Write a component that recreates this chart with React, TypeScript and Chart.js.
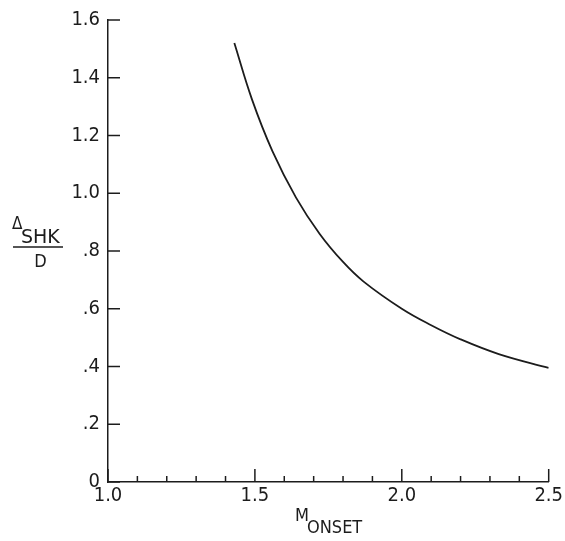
import React, { useEffect, useRef } from "react";
import { Chart, registerables } from "chart.js";

Chart.register(...registerables);

// Data
const mOnset = [1.43, 1.49, 1.56, 1.64, 1.72, 1.8, 1.87, 2.0, 2.1, 2.2, 2.33, 2.5];
const deltaShkOverD = [1.52, 1.325, 1.145, 0.985, 0.86, 0.762, 0.694, 0.6, 0.543, 0.494, 0.443, 0.395];

const xTickLabels = ["1.0", "1.5", "2.0", "2.5"];
const yTickLabels = ["0", ".2", ".4", ".6", ".8", "1.0", "1.2", "1.4", "1.6"];

const INK = "#1c1c1c";
const FONT = "'DejaVu Sans Condensed', 'Liberation Sans Narrow', 'DejaVu Sans', sans-serif";
const FONT_WIDE = "'DejaVu Sans', sans-serif";

const isMajorX = (v: number) => Math.abs(v * 2 - Math.round(v * 2)) < 1e-6;

const decorPlugin = {
  id: "decor",
  afterDraw(chart: any) {
    const ctx = chart.ctx;
    const xs = chart.scales.x;
    const ys = chart.scales.y;
    const area = chart.chartArea;
    ctx.save();
    ctx.strokeStyle = INK;
    ctx.lineWidth = 1.5;
    // y ticks, drawn inward
    ys.ticks.forEach((t: any) => {
      const py = ys.getPixelForValue(t.value);
      ctx.beginPath();
      ctx.moveTo(area.left, py);
      ctx.lineTo(area.left + 12, py);
      ctx.stroke();
    });
    // x ticks, drawn inward
    xs.ticks.forEach((t: any) => {
      const px = xs.getPixelForValue(t.value);
      const len = isMajorX(t.value) ? 13 : 6;
      ctx.beginPath();
      ctx.moveTo(px, area.bottom);
      ctx.lineTo(px, area.bottom - len);
      ctx.stroke();
    });

    ctx.fillStyle = INK;
    ctx.textBaseline = "alphabetic";
    ctx.textAlign = "left";
    // y axis title: Δ_SHK / D
    ctx.font = `17px ${FONT}`;
    ctx.fillText("Δ", 12, 229);
    ctx.font = `19px ${FONT_WIDE}`;
    ctx.fillText("SHK", 21, 243);
    ctx.lineWidth = 1.3;
    ctx.beginPath();
    ctx.moveTo(13, 247);
    ctx.lineTo(63, 247);
    ctx.stroke();
    ctx.textAlign = "center";
    ctx.font = `18px ${FONT}`;
    ctx.fillText("D", 40.5, 267);
    // x axis title: M_ONSET
    ctx.textAlign = "left";
    ctx.fillText("M", 295, 521);
    ctx.fillText("ONSET", 307, 533);
    ctx.restore();
  },
};

export default function App() {
  const canvasRef = useRef<HTMLCanvasElement | null>(null);

  useEffect(() => {
    if (!canvasRef.current) return;
    const points = mOnset.map((x, i) => ({ x, y: deltaShkOverD[i] }));
    const chart = new Chart(canvasRef.current, {
      type: "line",
      data: {
        datasets: [
          {
            data: points,
            borderColor: INK,
            borderWidth: 1.8,
            pointRadius: 0,
            fill: false,
            tension: 0.4,
          },
        ],
      },
      options: {
        animation: false,
        responsive: false,
        maintainAspectRatio: false,
        layout: { padding: { top: 16, right: 16, left: 0, bottom: 0 } },
        plugins: { legend: { display: false }, tooltip: { enabled: false } },
        scales: {
          x: {
            type: "linear",
            min: 1.0,
            max: 2.5,
            afterFit: (s: any) => {
              s.height = 59;
            },
            grid: { display: false, drawTicks: false },
            border: { display: true, color: INK, width: 1.5 },
            ticks: {
              stepSize: 0.1,
              autoSkip: false,
              maxRotation: 0,
              padding: 2,
              color: INK,
              font: { family: FONT, size: 20 },
              callback: (v: any, i: number) => (isMajorX(Number(v)) ? xTickLabels[Math.round(i / 5)] : ""),
            },
          },
          y: {
            type: "linear",
            min: 0,
            max: 1.6,
            afterFit: (s: any) => {
              s.width = 108;
            },
            grid: { display: false, drawTicks: false },
            border: { display: true, color: INK, width: 1.5 },
            ticks: {
              stepSize: 0.2,
              autoSkip: false,
              padding: 8,
              color: INK,
              font: { family: FONT, size: 20 },
              callback: (_v: any, i: number) => yTickLabels[i],
            },
          },
        },
      },
      plugins: [decorPlugin],
    });
    return () => chart.destroy();
  }, []);

  return (
    <div style={{ position: "fixed", left: 0, top: 0, width: 565, height: 541, background: "#fff" }}>
      <canvas ref={canvasRef} width={565} height={541} style={{ display: "block" }} />
    </div>
  );
}
